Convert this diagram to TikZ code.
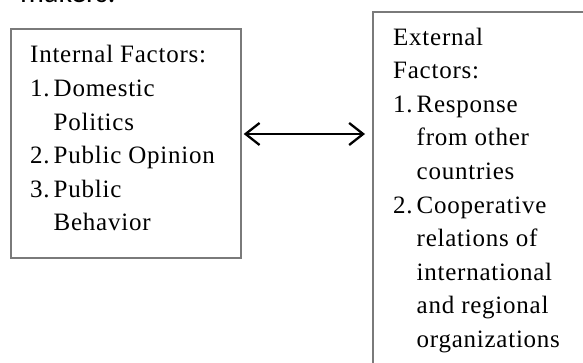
\documentclass[tikz,border=0pt]{standalone}
\usepackage{fontspec}
\setmainfont{Liberation Serif}[LetterSpace=3]
\newfontfamily\sansf{Carlito}
\usetikzlibrary{arrows.meta,calc}
\definecolor{boxgray}{HTML}{7A7A7A}
\newcommand{\itemnum}[1]{\makebox[23.5pt][l]{#1}}
\newcommand{\itemind}{\hspace*{23.5pt}}
\begin{document}
\begin{tikzpicture}[x=1pt,y=-1pt,
  box/.style={draw=boxgray,line width=1.7pt,inner sep=0pt},
  txt/.style={anchor=base west,inner sep=0pt,align=left,font=\fontsize{25}{33.6}\selectfont},
  arr/.style={{Straight Barb[length=14pt,width=22pt]}-{Straight Barb[length=14pt,width=22pt]},line width=2.3pt}]
\useasboundingbox (0,0) rectangle (583,363);
\node[anchor=base west,inner sep=0pt,font=\sansf\fontsize{30}{36}\selectfont] (top) at (20,3) {makers.};
\node[box,anchor=north west,minimum width=230pt,minimum height=229pt] (L) at (10,28) {};
\node[box,anchor=north west,minimum width=240pt,minimum height=380pt] (R) at (372,11) {};
\node[txt] (Ltxt) at (30,231) {Internal Factors:\\
\itemnum{1.}Domestic\\
\itemind Politics\\
\itemnum{2.}Public Opinion\\
\itemnum{3.}Public\\
\itemind Behavior};
\node[txt] (Rtxt) at (393,347.5) {External\\
Factors:\\
\itemnum{1.}Response\\
\itemind from other\\
\itemind countries\\
\itemnum{2.}Cooperative\\
\itemind relations of\\
\itemind international\\
\itemind and regional\\
\itemind organizations};
\coordinate (aL) at ($(L.north east)+(2,106)$);
\coordinate (aR) at ($(R.west |- aL)+(-7,0)$);
\draw[arr] (aL) -- (aR);
\end{tikzpicture}
\end{document}
